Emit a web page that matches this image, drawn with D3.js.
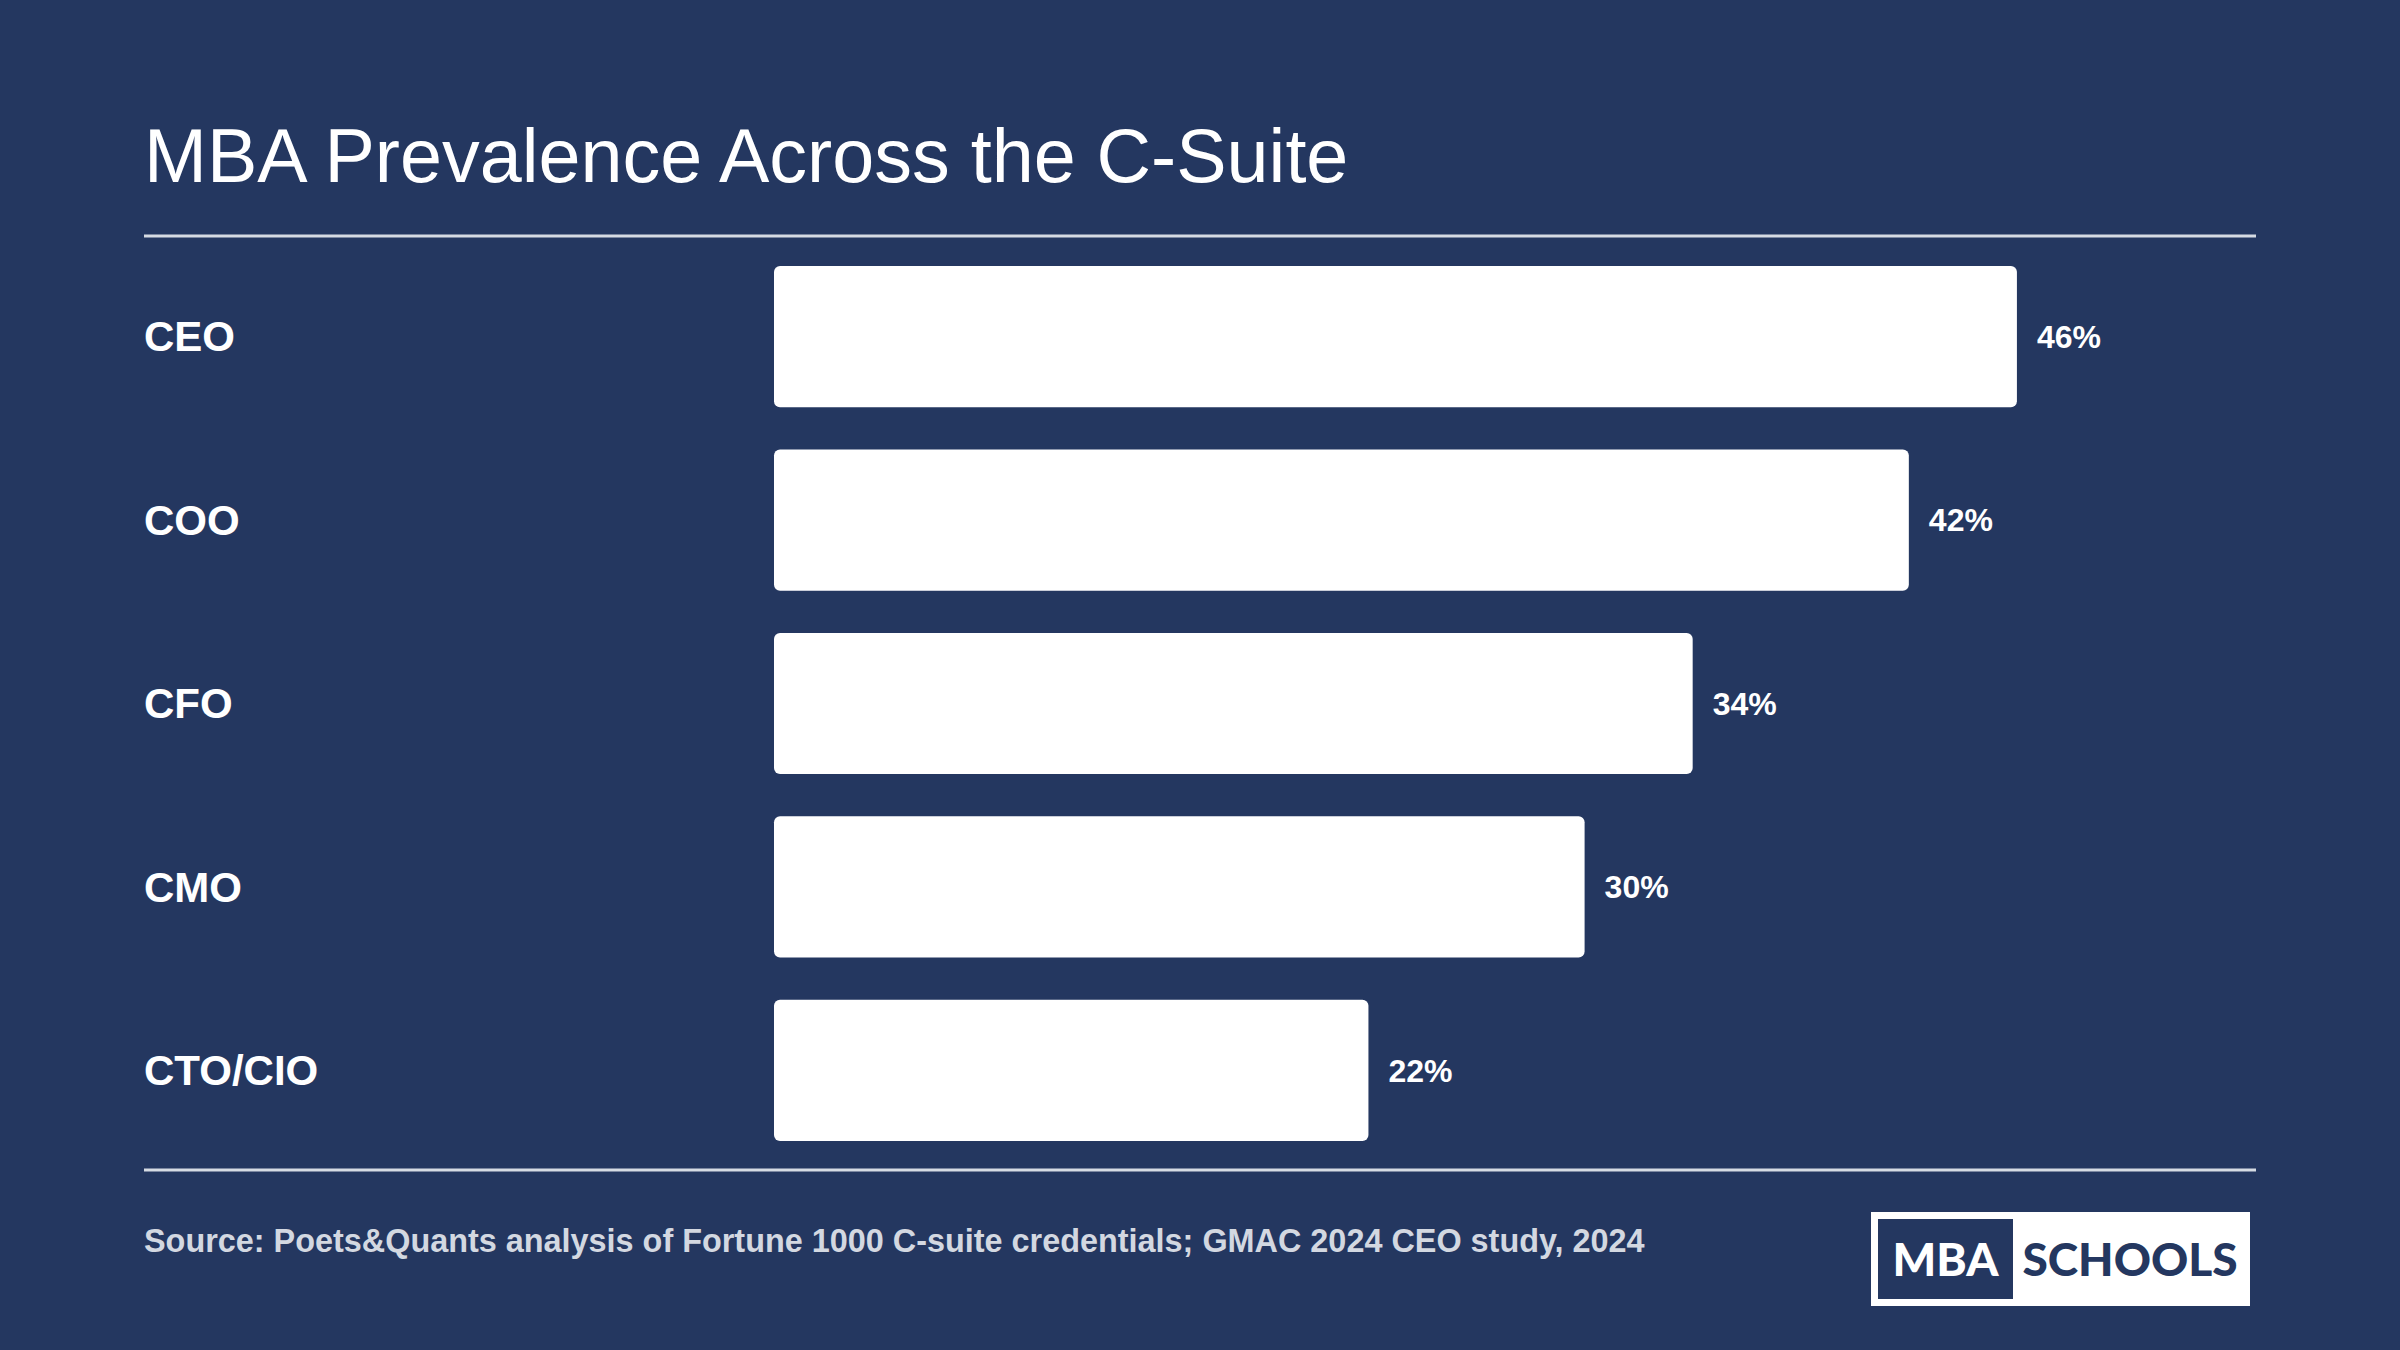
<!DOCTYPE html>
<html>
<head>
<meta charset="utf-8">
<title>MBA Prevalence Across the C-Suite</title>
<script src="https://d3js.org/d3.v7.min.js"></script>
<style>
body { margin: 0; background: #243760; }
svg { display: block; font-family: "Liberation Sans", Arial, Helvetica, sans-serif; }
</style>
</head>
<body>
<div id="chart"></div>
<script>
var roles = ["CEO", "COO", "CFO", "CMO", "CTO/CIO"];
var shares = [46, 42, 34, 30, 22];
var titleText = "MBA Prevalence Across the C-Suite";
var sourceText = "Source: Poets&Quants analysis of Fortune 1000 C-suite credentials; GMAC 2024 CEO study, 2024";

var W = 2400, H = 1350;
var bg = "#243760", rule = "#d6dbe3";

var data = roles.map(function(r, i) { return {role: r, value: shares[i]}; });

var svg = d3.select("#chart").append("svg")
    .attr("width", W)
    .attr("height", H);

svg.append("rect").attr("width", W).attr("height", H).attr("fill", bg);

// title
svg.append("text")
    .attr("x", 144)
    .attr("y", 182)
    .attr("fill", "#ffffff")
    .attr("font-size", 75.5)
    .text(titleText);

// rules
svg.append("line")
    .attr("x1", 144).attr("x2", 2256)
    .attr("y1", 236).attr("y2", 236)
    .attr("stroke", rule).attr("stroke-width", 3);

svg.append("line")
    .attr("x1", 144).attr("x2", 2256)
    .attr("y1", 1170).attr("y2", 1170)
    .attr("stroke", rule).attr("stroke-width", 3);

var x = d3.scaleLinear()
    .domain([0, 50])
    .range([774, 774 + 1351]);

var y = d3.scaleBand()
    .domain(roles)
    .range([245, 1162])
    .paddingInner(0.23)
    .paddingOuter(0.115);

var rows = svg.append("g")
  .selectAll("g")
  .data(data)
  .enter().append("g");

rows.append("rect")
    .attr("x", x(0))
    .attr("y", function(d) { return y(d.role); })
    .attr("width", function(d) { return x(d.value) - x(0); })
    .attr("height", y.bandwidth())
    .attr("rx", 6)
    .attr("fill", "#ffffff");

rows.append("text")
    .attr("x", 144)
    .attr("y", function(d) { return y(d.role) + y.bandwidth() / 2; })
    .attr("dy", "0.35em")
    .attr("fill", "#ffffff")
    .attr("font-size", 42)
    .attr("font-weight", "bold")
    .text(function(d) { return d.role; });

rows.append("text")
    .attr("x", function(d) { return x(d.value) + 20; })
    .attr("y", function(d) { return y(d.role) + y.bandwidth() / 2; })
    .attr("dy", "0.35em")
    .attr("fill", "#ffffff")
    .attr("font-size", 32)
    .attr("font-weight", "bold")
    .text(function(d) { return d.value + "%"; });

// source
svg.append("text")
    .attr("x", 144)
    .attr("y", 1252)
    .attr("fill", "#d3d8e1")
    .attr("font-size", 32.4)
    .attr("font-weight", "bold")
    .text(sourceText);

// logo
var logo = svg.append("g");
logo.append("rect")
    .attr("x", 1871).attr("y", 1212)
    .attr("width", 379).attr("height", 94)
    .attr("fill", "#ffffff");
logo.append("rect")
    .attr("x", 1878).attr("y", 1219)
    .attr("width", 135).attr("height", 80)
    .attr("fill", bg);
logo.append("text")
    .attr("x", 1945.5).attr("y", 1276)
    .attr("text-anchor", "middle")
    .attr("fill", "#ffffff")
    .attr("font-family", "Lato, 'Open Sans', sans-serif")
    .attr("font-weight", 900)
    .attr("font-size", 46)
    .text("MBA");
logo.append("text")
    .attr("x", 2130).attr("y", 1276)
    .attr("text-anchor", "middle")
    .attr("fill", bg)
    .attr("font-family", "Lato, 'Open Sans', sans-serif")
    .attr("font-weight", 900)
    .attr("font-size", 46)
    .text("SCHOOLS");
</script>
</body>
</html>
